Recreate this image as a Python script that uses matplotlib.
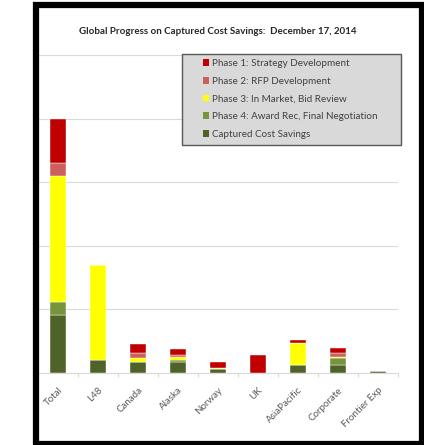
import matplotlib.pyplot as plt
from matplotlib.patches import Rectangle, Patch

DPI = 100

categories = ['Total', 'L48', 'Canada', 'Alaska', 'Norway', 'UK',
              'AsiaPacific', 'Corporate', 'Frontier Exp']
captured = [0.91, 0.20, 0.17, 0.17, 0.06, 0.0, 0.12, 0.125, 0.036]
phase4 = [0.20, 0.0, 0.01, 0.03, 0.005, 0.0, 0.005, 0.105, 0.0]
phase3 = [1.98, 1.50, 0.05, 0.045, 0.015, 0.005, 0.34, 0.025, 0.0]
phase2 = [0.21, 0.0, 0.09, 0.035, 0.0, 0.0, 0.01, 0.055, 0.0]
phase1 = [0.70, 0.0, 0.13, 0.095, 0.09, 0.28, 0.05, 0.085, 0.0]

labels = ['Phase 1: Strategy Development', 'Phase 2: RFP Development',
          'Phase 3: In Market, Bid Review',
          'Phase 4: Award Rec, Final Negotiation', 'Captured Cost Savings']
colors = ['#c00000', '#cd5f5f', '#ffff00', '#77933c', '#4f6228']

plt.rcParams['font.family'] = ['Lato', 'DejaVu Sans']

fig = plt.figure(figsize=(424 / DPI, 445 / DPI), dpi=DPI)
ax = fig.add_axes([38 / 424, 1 - 373 / 445, 360 / 424, 318 / 445])

x = range(len(categories))
bottom = [0.0] * len(categories)
# stack from the bottom up
for vals, c in zip([captured, phase4, phase3, phase2, phase1], colors[::-1]):
    ax.bar(x, vals, width=0.4, bottom=bottom, color=c, edgecolor='white',
           linewidth=0.3, zorder=3)
    bottom = [b + v for b, v in zip(bottom, vals)]

ax.set_xlim(-0.5, len(categories) - 0.5)
ax.set_ylim(0, 5)
ax.set_yticks([1, 2, 3, 4, 5])
ax.yaxis.grid(True, color='#d9d9d9', linewidth=0.8, zorder=0)
ax.tick_params(axis='y', length=0, labelleft=False)
for s in ['top', 'right', 'left']:
    ax.spines[s].set_visible(False)
ax.spines['bottom'].set_color('#d9d9d9')
ax.spines['bottom'].set_linewidth(0.8)

ax.set_xticks([i + 0.5 for i in x], minor=False)
ax.set_xticklabels([])
ax.tick_params(axis='x', which='major', length=3, color='#d9d9d9', width=0.8)
ax.set_xticks(list(x), minor=True)
ax.set_xticklabels(categories, minor=True, rotation=45, ha='right',
                   va='top', rotation_mode='anchor', fontsize=7, color='#595959')
ax.tick_params(axis='x', which='minor', length=0, pad=9)

fig.text(218 / 424, 1 - 32 / 445,
         'Global Progress on Captured Cost Savings:  December 17, 2014',
         ha='center', va='center', fontsize=7, fontweight='bold',
         color='#262626')

# legend frame drawn by hand: the original box has a wide empty margin
fig.patches.append(Rectangle((182 / 424, 1 - 145 / 445), 219 / 424, 91 / 445,
                             transform=fig.transFigure, facecolor='#d9d9d9',
                             edgecolor='#595959', linewidth=1.0, zorder=5))
handles = [Patch(facecolor=c, edgecolor='none') for c in colors]
leg = fig.legend(handles, labels, loc='upper left',
                 bbox_to_anchor=(203 / 424, 1 - 59 / 445),
                 fontsize=7.1, frameon=False,
                 handlelength=0.65, handleheight=0.65, handletextpad=0.3,
                 labelspacing=0.88, borderpad=0, borderaxespad=0)
leg.set_zorder(6)
for t in leg.get_texts():
    t.set_color('#404040')

# outer frame
fig.patches.append(Rectangle((35.5 / 424, 1.5 / 445), 386 / 424, 439 / 445,
                             transform=fig.transFigure, fill=False,
                             edgecolor='black', linewidth=4.5))

fig.savefig('out.png', dpi=DPI)
